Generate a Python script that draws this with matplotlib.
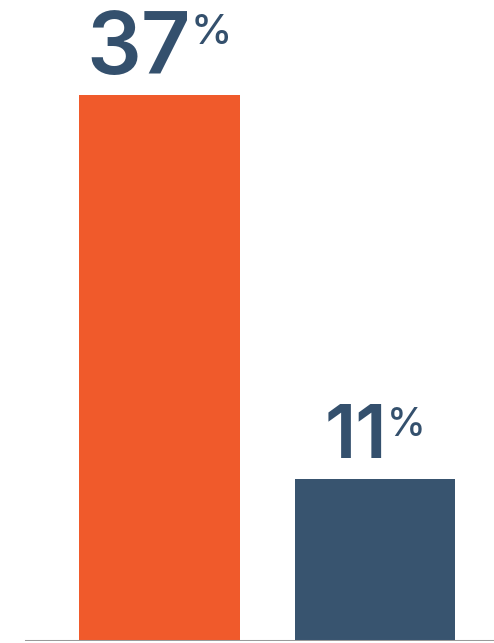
import matplotlib.pyplot as plt
from matplotlib.transforms import IdentityTransform

# values shown on the bars
labels = ['A', 'B']
values = [37, 11]
bar_colors = ['#F05A2B', '#38546F']
num_sizes = [62, 53]
pct_sizes = [30, 28]

text_color = '#34506D'

fig = plt.figure(figsize=(4.94, 6.43), dpi=100)
ax = fig.add_axes([0, 2 / 643, 1, 1 - 2 / 643])

xs = list(range(len(values)))
ax.bar(xs, values, width=0.743, color=bar_colors, zorder=2)
ax.set_xlim(-0.740, 1.552)
ax.set_ylim(0, 43.4)
ax.axhline(0, xmin=0.053, xmax=1, color='#9A9A9A', lw=2.2, zorder=3)
ax.axis('off')

# number plus a smaller raised percent sign, centred over each bar
fig.canvas.draw()
r = fig.canvas.get_renderer()
for x, v, ns, ps in zip(xs, values, num_sizes, pct_sizes):
    num = ax.text(0, 0, str(v), fontsize=ns, family='Inter', weight='semibold',
                  color=text_color, ha='left', va='baseline',
                  transform=IdentityTransform())
    pct = ax.text(0, 0, '%', fontsize=ps, family='Inter', weight='medium',
                  color=text_color, ha='left', va='top',
                  transform=IdentityTransform())
    wn = num.get_window_extent(r).width
    wp = pct.get_window_extent(r).width
    gap = 0
    total = wn + gap + wp
    cx, top = ax.transData.transform((x, v))
    base = top + 21
    cap = ns * 100 / 72 * 0.72
    num.set_position((cx - total / 2, base))
    pct.set_position((cx - total / 2 + wn + gap, base + cap - 2))

fig.savefig('out.png', dpi=100)
